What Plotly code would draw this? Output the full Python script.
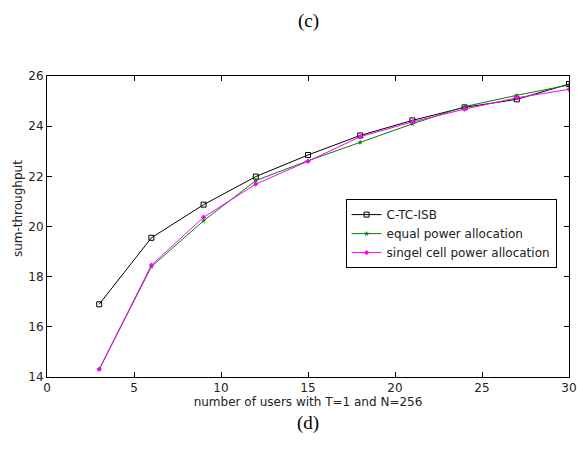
import plotly.graph_objects as go

users = [3, 6, 9, 12, 15, 18, 21, 24, 27, 30]
ctc_isb = [16.90, 19.55, 20.87, 21.99, 22.85, 23.63, 24.23, 24.75, 25.07, 25.68]
equal_power = [14.30, 18.40, 20.23, 21.83, 22.62, 23.35, 24.09, 24.78, 25.23, 25.64]
single_cell = [14.31, 18.46, 20.37, 21.69, 22.60, 23.58, 24.17, 24.68, 25.13, 25.47]
x_ticks = [0, 5, 10, 15, 20, 25, 30]
y_ticks = [14, 16, 18, 20, 22, 24, 26]

FONT = "DejaVu Sans, Arial"

fig = go.Figure()
fig.add_trace(go.Scatter(x=users, y=ctc_isb, mode="lines+markers", name="C-TC-ISB",
                         line=dict(color="black", width=1),
                         marker=dict(symbol="square-open", size=5, color="black", line=dict(width=1))))
fig.add_trace(go.Scatter(x=users, y=equal_power, mode="lines+markers", name="equal power allocation",
                         line=dict(color="#008000", width=1),
                         marker=dict(symbol="star", size=4, color="#008000")))
fig.add_trace(go.Scatter(x=users, y=single_cell, mode="lines+markers", name="singel cell power allocation",
                         line=dict(color="#ff00ff", width=1),
                         marker=dict(symbol="diamond", size=4, color="#ff00ff")))

axis_common = dict(showgrid=False, zeroline=False, showline=True, linecolor="black", linewidth=1,
                   mirror="ticks", ticks="inside", ticklen=5, tickcolor="black", automargin=False,
                   tickfont=dict(family=FONT, size=12, color="#222"))

fig.update_layout(
    width=577, height=451,
    margin=dict(l=47, r=8, t=76, b=74),
    paper_bgcolor="white", plot_bgcolor="white",
    xaxis=dict(range=[0, 30], tickvals=x_ticks, **axis_common,
               title=dict(text="number of users with T=1 and N=256", standoff=0,
                          font=dict(family=FONT, size=12, color="#222"))),
    yaxis=dict(range=[14, 26], tickvals=y_ticks, **axis_common),
    legend=dict(x=0.572, y=0.591, xanchor="left", yanchor="top",
                bgcolor="white", bordercolor="black", borderwidth=1,
                font=dict(family=FONT, size=12, color="#222"),
                itemwidth=30, tracegroupgap=0),
    showlegend=True,
    annotations=[
        dict(text="sum-throughput", xref="paper", yref="paper", x=-0.0556, y=0.561,
             textangle=-90, showarrow=False, xanchor="center", yanchor="middle",
             font=dict(family=FONT, size=12, color="#222")),
        dict(text="(c)", xref="paper", yref="paper", x=0.5, y=1, yshift=55, showarrow=False,
             xanchor="center", yanchor="middle",
             font=dict(family="Liberation Serif, Times New Roman", size=19, color="black")),
        dict(text="(d)", xref="paper", yref="paper", x=0.5, y=0, yshift=-46, showarrow=False,
             xanchor="center", yanchor="middle",
             font=dict(family="Liberation Serif, Times New Roman", size=19, color="black")),
    ],
)

fig.write_html("out.html", config={"displayModeBar": False},
               post_script="document.body.style.margin='0';document.body.style.overflow='hidden';")
